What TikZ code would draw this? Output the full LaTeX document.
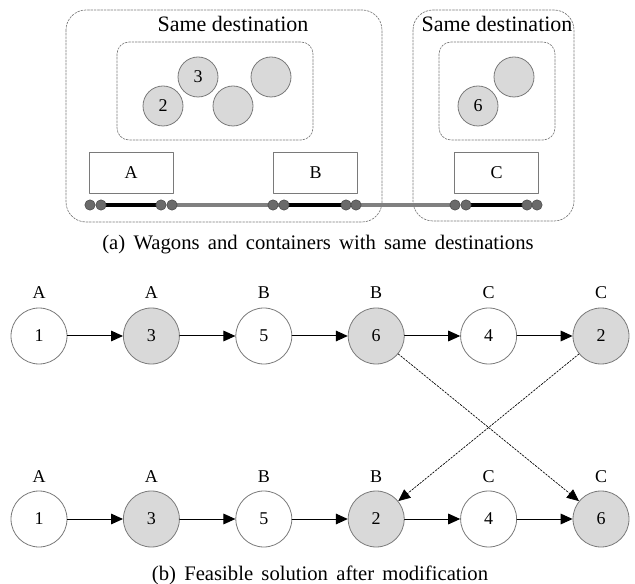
\documentclass[tikz,border=0pt]{standalone}
\usepackage{fontspec}
\setmainfont{Liberation Serif}
\newfontfamily\capfont[WordSpace=1.6]{Liberation Serif}
\usetikzlibrary{arrows.meta}
\definecolor{boxgray}{HTML}{7A7A7A}
\definecolor{contfill}{HTML}{D9D9D9}
\definecolor{wheelfill}{HTML}{6A6A6A}
\definecolor{railgray}{HTML}{808080}

\begin{document}
\begin{tikzpicture}[x=0.75pt, y=-0.75pt, line join=round, line cap=round, >={Triangle[length=9pt, width=8pt]},
		grp/.style={draw=boxgray, line width=0.5pt, dash pattern=on 1.5pt off 1pt},
		cont/.style={circle, draw=boxgray, fill=contfill, line width=0.6pt, minimum size=30pt, inner sep=0pt, font=\fontsize{13.5}{15}\selectfont},
		wagon/.style={draw=boxgray, line width=0.6pt, minimum width=63pt, minimum height=30.75pt, inner sep=0pt, font=\fontsize{13.5}{15}\selectfont},
		plainc/.style={circle, draw=boxgray, fill=white, line width=0.6pt, minimum size=42pt, inner sep=0pt, font=\fontsize{13.5}{15}\selectfont},
		shadec/.style={plainc, fill=contfill},
		lab/.style={inner sep=0pt, font=\fontsize{13.5}{15}\selectfont},
		captxt/.style={anchor=base, inner sep=0pt, font=\capfont\fontsize{15.5}{18}\selectfont},
		swaparrow/.style={->, line width=0.5pt, dash pattern=on 1.5pt off 1pt}]
	\useasboundingbox (0,0) rectangle (635,584);
	% (a) wagons and containers
	\draw[grp, rounded corners=15pt] (66,10) rectangle (382,222);
	\draw[grp, rounded corners=15pt] (413,10) rectangle (574,221);
	\draw[grp, rounded corners=9pt] (117,42) rectangle (313,140);
	\draw[grp, rounded corners=9pt] (439,42) rectangle (555,140);
	\node[lab, anchor=base, font=\fontsize{16.5}{19}\selectfont] (dest1) at (233,32) {Same destination};
	\node[lab, anchor=base, font=\fontsize{16.5}{19}\selectfont] (dest2) at (497,32) {Same destination};
	\foreach \n/\x/\y/\t in {1/163/106/2, 2/198/77/3, 3/233/106/, 4/271/77/, 5/478/106/6, 6/514/77/}
	\node[cont] (c\n) at (\x,\y) {\t};
	\foreach \w/\x in {A/131, B/315.5, C/496.5}
	\node[wagon] (w\w) at (\x,172.5) {\w};
	% track
	\draw[railgray, line width=2.6pt, line cap=butt] (172,205) -- (455,205);
	\foreach \a/\b in {101/161, 284/346, 466/527}
	\draw[black, line width=3pt, line cap=butt] (\a,205) -- (\b,205);
	\foreach \x in {90,101,161,172,273,284,346,356,455,466,527,537}
	\filldraw[fill=wheelfill, draw=wheelfill!70!black, line width=0.4pt] (\x,205) circle (3.9pt);
	\node[captxt] (capa) at (318,250) {(a) Wagons and containers with same destinations};
	% (b) sequences
	\foreach \n/\s/\w [count=\i from 0] in {1/plainc/A, 3/shadec/A, 5/plainc/B, 6/shadec/B, 4/plainc/C, 2/shadec/C}{
		\node[\s] (t\i) at ({39+112.4*\i},336) {\n};
		\node[lab] (tl\i) at ({39+112.4*\i},293) {\w};
	}
	\foreach \n/\s/\w [count=\i from 0] in {1/plainc/A, 3/shadec/A, 5/plainc/B, 2/shadec/B, 4/plainc/C, 6/shadec/C}{
		\node[\s] (b\i) at ({39+112.4*\i},519) {\n};
		\node[lab] (bl\i) at ({39+112.4*\i},477) {\w};
	}
	\foreach \i/\j in {0/1, 1/2, 2/3, 3/4, 4/5}{
		\draw[->, line width=0.75pt] (t\i) -- (t\j);
		\draw[->, line width=0.75pt] (b\i) -- (b\j);
	}
	\draw[swaparrow] (t3) -- (b5);
	\draw[swaparrow] (t5) -- (b3);
	\node[captxt] (capb) at (320,580) {(b) Feasible solution after modification};
\end{tikzpicture}
\end{document}
